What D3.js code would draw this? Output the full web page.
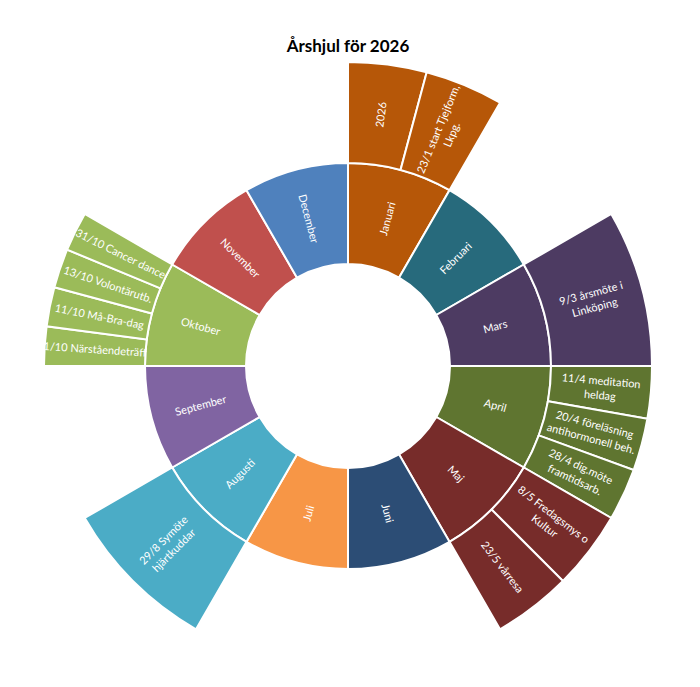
<!DOCTYPE html>
<html><head><meta charset="utf-8">
<script src="https://cdn.jsdelivr.net/npm/d3@7"></script>
<style>body{margin:0;background:#fff}svg{display:block}</style>
</head><body>
<script>
const title = "Årshjul för 2026";
const months = ["Januari","Februari","Mars","April","Maj","Juni","Juli","Augusti","September","Oktober","November","December"];
const monthColors = ["#B65708","#276A7C","#4D3B62","#5F7530","#772C2A","#2C4D75","#F79646","#4BACC6","#8064A2","#9BBB59","#C0504D","#4F81BD"];
const eventMonths = ["Januari","Januari","Mars","April","April","April","Maj","Maj","Augusti","Oktober","Oktober","Oktober","Oktober"];
const eventLabels = ["2026","23/1 start Tjejform,|Lkpg.","9/3 årsmöte i|Linköping","11/4 meditation|heldag","20/4 föreläsning|antihormonell beh.","28/4 dig.möte|framtidsarb.","8/5 Fredagsmys o|Kultur","23/5 vårresa","29/8 Symöte|hjärtkuddar","1/10 Närståendeträff","11/10 Må-Bra-dag","13/10 Volontärutb.","31/10 Cancer dance"];

const W = 700, H = 687, cx = 348, cy = 366;
const svg = d3.select("body").append("svg").attr("width", W).attr("height", H);

svg.append("text").attr("x", 348).attr("y", 52).attr("text-anchor","middle")
  .attr("font-family","Lato, 'Open Sans', sans-serif").attr("font-weight","bold").attr("font-size",17)
  .attr("fill","#000").text(title);

const data = {name:"root", children: months.map((m,i)=>{
  const evs = eventLabels.filter((e,j)=>eventMonths[j]===m);
  return evs.length ? {name:m, mi:i, children: evs.map(e=>({name:e, mi:i, value:1/evs.length}))}
                    : {name:m, mi:i, value:1};
})};
const root = d3.hierarchy(data).sum(d=>d.value||0);
d3.partition().size([2*Math.PI, 3])(root);

const rScale = d3.scaleLinear().domain([1,3]).range([102,304]);
const arc = d3.arc().startAngle(d=>d.x0).endAngle(d=>d.x1)
  .innerRadius(d=>rScale(d.y0)).outerRadius(d=>rScale(d.y1));

const g = svg.append("g").attr("transform",`translate(${cx},${cy})`);
const nodes = root.descendants().filter(d=>d.depth>0);
g.selectAll("path").data(nodes).enter().append("path")
  .attr("d", arc).attr("fill", d=>monthColors[d.data.mi])
  .attr("stroke","#fff").attr("stroke-width",2);

const fs = 11, lh = 14.5;
const lbl = g.selectAll("g.lbl").data(nodes).enter().append("g").attr("class","lbl")
  .attr("transform", d=>{
    const a = (d.x0+d.x1)/2, r = (rScale(d.y0)+rScale(d.y1))/2;
    const deg = a*180/Math.PI;
    const rot = deg < 180 ? deg-90 : deg-270;
    return `translate(${r*Math.sin(a)},${-r*Math.cos(a)}) rotate(${rot})`;
  });
lbl.each(function(d){
  const lines = d.data.name.split("|");
  const t = d3.select(this).append("text").attr("text-anchor","middle")
    .attr("font-family","Lato, 'Open Sans', sans-serif").attr("font-size",fs).attr("fill","#fff");
  lines.forEach((l,i)=>{
    t.append("tspan").attr("x",0).attr("y",(i-(lines.length-1)/2)*lh).attr("dy","0.35em").text(l);
  });
});
</script>
</body></html>
